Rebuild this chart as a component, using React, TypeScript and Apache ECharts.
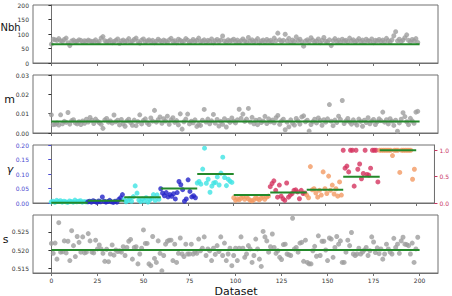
import React, { useEffect, useRef } from "react";
import * as echarts from "echarts";

// Dataset index ticks
const X_TICKS = [0, 25, 50, 75, 100, 125, 150, 175, 200];

// Neighbourhood size estimates per dataset
const nbh = [
  65, 82, 80, 78, 84, 77, 74, 81, 86, 70, 60, 76, 79, 73, 75, 80, 78, 72, 77, 74,
  79, 76, 73, 75, 80, 71, 74, 86, 91, 77, 72, 75, 80, 70, 74, 78, 83, 68, 76, 79,
  73, 77, 84, 71, 75, 81, 86, 74, 69, 79, 83, 72, 76, 80, 74, 78, 70, 75, 82, 77,
  73, 79, 76, 71, 80, 85, 74, 77, 70, 82, 78, 73, 76, 84, 79, 71, 75, 81, 74, 78,
  86, 73, 76, 80, 72, 78, 75, 83, 70, 77, 81, 74, 79, 93, 76, 72, 80, 75, 78, 82,
  74, 79, 71, 77, 83, 76, 72, 88, 75, 80, 73, 77, 84, 70, 76, 79, 73, 81, 75, 78,
  72, 86, 77, 103, 80, 74, 78, 99, 76, 85, 71, 79, 74, 90, 77, 82, 73, 58, 76, 80,
  74, 87, 79, 72, 76, 83, 70, 78, 88, 75, 73, 80, 60, 77, 84, 74, 79, 71, 82, 76,
  78, 73, 86, 76, 80, 72, 77, 84, 74, 79, 71, 82, 77, 75, 83, 70, 78, 76, 81, 74,
  79, 73, 85, 77, 72, 80, 94, 108, 76, 82, 74, 79, 87, 97, 78, 73, 81, 76, 84, 71,
];

// Migration rate estimates per dataset
const mRate = [
  0.0094, 0.0043, 0.0045, 0.0052, 0.0041, 0.0094, 0.0048, 0.006, 0.0055, 0.0106, 0.0046, 0.0064, 0.0069, 0.0052, 0.0047, 0.0058, 0.0044, 0.0062, 0.005, 0.0071,
  0.0057, 0.008, 0.0066, 0.0049, 0.0072, 0.0061, 0.0053, 0.0045, 0.0024, 0.0068, 0.0075, 0.0056, 0.0062, 0.0051, 0.0093, 0.0058, 0.0066, 0.0042, 0.007, 0.0048,
  0.0035, 0.0063, 0.0071, 0.0054, 0.004, 0.0067, 0.0038, 0.0059, 0.0094, 0.0047, 0.0065, 0.0073, 0.0052, 0.0044, 0.0078, 0.0061, 0.0117, 0.0056, 0.0069, 0.0083,
  0.005, 0.0074, 0.0062, 0.0087, 0.0045, 0.0068, 0.0079, 0.0055, 0.0064, 0.0042, 0.0099, 0.002, 0.0058, 0.0072, 0.0098, 0.0047, 0.0061, 0.0053, 0.0068, 0.0034,
  0.0044, 0.0039, 0.0066, 0.0122, 0.0057, 0.0072, 0.0048, 0.0063, 0.0096, 0.0051, 0.007, 0.0036, 0.006, 0.0045, 0.0074, 0.0031, 0.0065, 0.0055, 0.0078, 0.0061,
  0.0052, 0.0068, 0.0123, 0.0076, 0.0098, 0.006, 0.0072, 0.0127, 0.0057, 0.0081, 0.0048, 0.0066, 0.0043, 0.007, 0.0054, 0.0062, 0.0086, 0.0049, 0.0073, 0.0058,
  0.0067, 0.0053, 0.0079, 0.0091, 0.0045, 0.0063, 0.0071, 0.0017, 0.0056, 0.0032, 0.0068, 0.005, 0.0041, 0.0075, 0.0062, 0.0046, 0.0083, 0.0089, 0.0058, 0.0066,
  0.001, 0.0044, 0.0059, 0.0071, 0.0052, 0.0078, 0.0065, 0.004, 0.0069, 0.0056, 0.0073, 0.0147, 0.0061, 0.0038, 0.0067, 0.0054, 0.0087, 0.007, 0.0168, 0.0049,
  0.0063, 0.0075, 0.0057, 0.0046, 0.0068, 0.0052, 0.0041, 0.0072, 0.006, 0.0035, 0.0066, 0.0054, 0.0079, 0.0048, 0.0062, 0.007, 0.0044, 0.0058, 0.0073, 0.0064,
  0.0108, 0.0056, 0.0069, 0.0047, 0.0074, 0.0061, 0.0039, 0.0066, 0.0009, 0.0052, 0.0071, 0.0105, 0.0085, 0.0058, 0.0043, 0.0076, 0.0062, 0.005, 0.0108, 0.0112,
];

// Gamma estimates, 20 datasets per simulated value
const gammaGroups = [
  [0.004, 0.006, 0.002, 0.009, 0.005, 0.008, 0.003, 0.006, 0.004, 0.002, 0.007, 0.005, 0.003, 0.01, 0.004, 0.006, 0.008, 0.003, 0.005, 0.004],
  [0.004, 0.006, 0.003, 0.008, 0.005, 0.002, 0.007, 0.004, 0.021, 0.006, 0.003, 0.005, 0.009, 0.004, 0.002, 0.006, 0.003, 0.012, 0.018, 0.029],
  [0.012, 0.004, 0.008, 0.015, 0.006, 0.022, 0.059, 0.034, 0.01, 0.005, 0.014, 0.007, 0.018, 0.003, 0.011, 0.016, 0.029, 0.009, 0.028, 0.013],
  [0.049, 0.034, 0.025, 0.036, 0.021, 0.029, 0.023, 0.032, 0.014, 0.036, 0.074, 0.063, 0.046, 0.006, 0.014, 0.08, 0.04, 0.021, 0.025, 0.018],
  [0.069, 0.074, 0.065, 0.117, 0.189, 0.068, 0.082, 0.037, 0.058, 0.069, 0.071, 0.09, 0.062, 0.103, 0.158, 0.088, 0.06, 0.082, 0.075, 0.071],
  [0.1, 0.05, 0.08, 0.06, 0.09, 0.12, 0.07, 0.11, 0.08, 0.05, 0.04, 0.06, 0.1, 0.08, 0.06, 0.09, 0.12, 0.07, 0.11, 0.13],
  [0.31, 0.37, 0.42, 0.24, 0.11, 0.34, 0.13, 0.08, 0.05, 0.38, 0.11, 0.15, 0.18, 0.24, 0.25, 0.21, 0.08, 0.24, 0.18, 0.19],
  [0.15, 0.1, 0.69, 0.25, 0.27, 0.19, 0.11, 0.24, 0.15, 0.59, 0.27, 0.18, 0.51, 0.24, 0.34, 0.17, 0.27, 0.13, 0.4, 0.15],
  [1.0, 0.66, 0.7, 0.59, 1.0, 1.0, 0.32, 1.0, 0.64, 0.74, 0.46, 0.56, 1.0, 0.54, 0.53, 0.66, 1.0, 1.0, 1.0, 0.4],
  [1.0, 1.0, 1.0, 1.0, 1.0, 1.0, 1.0, 0.9, 1.0, 1.0, 1.0, 0.58, 1.0, 1.0, 1.0, 1.0, 1.0, 1.0, 0.45, 0.64],
];
const gammaTrue = [0.001, 0.008, 0.02, 0.05, 0.1, 0.15, 0.2, 0.25, 0.5, 1.0];
// 0 = left axis (small gamma), 1 = right axis (large gamma)
const gammaSide = [0, 0, 0, 0, 0, 1, 1, 1, 1, 1];
const gammaColors = [
  "#3fe3e3", "#2323c8", "#3fe3e3", "#2323c8", "#3fe3e3",
  "#f39a63", "#d5335f", "#f39a63", "#d5335f", "#f39a63",
];

// s estimates per dataset
const sVal = [
  0.5218, 0.5191, 0.5219, 0.5175, 0.5275, 0.5194, 0.5195, 0.5225, 0.5192, 0.5224,
  0.5171, 0.5253, 0.5212, 0.5182, 0.5237, 0.5221, 0.5194, 0.5236, 0.5192, 0.5194,
  0.5245, 0.5225, 0.5194, 0.5192, 0.5227, 0.5203, 0.5214, 0.5203, 0.5191, 0.5169,
  0.5202, 0.5168, 0.5189, 0.5214, 0.5186, 0.52, 0.5196, 0.5198, 0.5194, 0.5209,
  0.5185, 0.5207, 0.5224, 0.5229, 0.5175, 0.5207, 0.5209, 0.5162, 0.5189, 0.5205,
  0.5255, 0.5218, 0.5218, 0.5162, 0.5157, 0.5237, 0.5177, 0.5166, 0.5225, 0.5191,
  0.5143, 0.5185, 0.5216, 0.5224, 0.5227, 0.5227, 0.5171, 0.5216, 0.5166, 0.5191,
  0.5233, 0.5189, 0.5182, 0.5216, 0.5189, 0.5189, 0.5216, 0.5189, 0.5194, 0.5191,
  0.523, 0.5198, 0.5205, 0.5236, 0.5185, 0.5203, 0.5198, 0.5171, 0.5205, 0.5188,
  0.5212, 0.5196,
  0.5236, 0.5185, 0.5219, 0.5171, 0.5189, 0.5205, 0.5157, 0.5185, 0.5205, 0.5171,
  0.5205, 0.5236, 0.5205, 0.518, 0.5189, 0.5212, 0.5203, 0.5166, 0.5185, 0.523,
  0.5203, 0.5175, 0.5155, 0.5251, 0.5236, 0.5225, 0.5194, 0.5209, 0.5244, 0.5207,
  0.5191, 0.5198, 0.518, 0.5174, 0.5215, 0.5216, 0.5189, 0.5187, 0.5185, 0.5287,
  0.5203, 0.5207, 0.5194, 0.5219, 0.5221, 0.5169, 0.5227, 0.5166, 0.5162, 0.5162,
  0.5198, 0.521, 0.5183,
  0.5239, 0.5185, 0.5224, 0.5224, 0.52, 0.5171, 0.5233, 0.523, 0.518, 0.5207,
  0.5237, 0.5216, 0.5225, 0.5166, 0.5166, 0.5194, 0.5227, 0.5212, 0.5248, 0.5189,
  0.5185, 0.5189, 0.5205, 0.5189, 0.5194, 0.52, 0.5207, 0.5185, 0.5198, 0.5236,
  0.5222, 0.5193, 0.5206, 0.519,
  0.5203, 0.5175, 0.5189, 0.5216, 0.5203, 0.5194, 0.5189, 0.5232, 0.5207, 0.5216,
  0.5191, 0.5225, 0.5235, 0.5216, 0.5215, 0.5212, 0.5189, 0.5219, 0.5166, 0.5203,
  0.5235,
];

const NBH_TRUE = 65;
const M_TRUE = 0.006;
const S_TRUE = 0.52;

const GRAY = "#9d9d9d";
const GREEN = "#23892a";
const FRAME = "#707070";
const TEXT = "#333";
const LEFT_BLUE = "#4a4ad0";
const RIGHT_RED = "#c93461";
const FONT = "DejaVu Sans";
const TICK_FONT = 6;

const GRID_TOPS = [5, 75, 145, 215];
const GRID_H = 58;

export default function App() {
  const ref = useRef<HTMLDivElement>(null);

  useEffect(() => {
    if (!ref.current) return;
    const chart = echarts.init(ref.current, null, { renderer: "svg" });

    const pts = (arr: number[], offset = 0) => arr.map((v, k) => [offset + k, v]);

    const grid = GRID_TOPS.map((top) => ({
      left: 33,
      right: 14,
      top,
      height: GRID_H,
      show: true,
      borderColor: FRAME,
      borderWidth: 1,
      backgroundColor: "transparent",
    }));

    const xAxis = GRID_TOPS.map((_, gi) => ({
      type: "value",
      gridIndex: gi,
      min: -10,
      max: 210,
      axisLine: { show: true, lineStyle: { color: FRAME } },
      axisTick: {
        show: true,
        length: 3,
        customValues: X_TICKS,
        lineStyle: { color: FRAME },
      },
      axisLabel: {
        show: gi === 3,
        customValues: X_TICKS,
        margin: 4,
        fontSize: TICK_FONT,
        color: TEXT,
        fontFamily: FONT,
      },
      splitLine: { show: false },
    }));

    const yBase = (gi: number, color = TEXT) => ({
      type: "value",
      gridIndex: gi,
      axisLine: { show: true, lineStyle: { color: FRAME } },
      axisTick: { show: true, length: 3, lineStyle: { color } },
      axisLabel: { margin: 4, fontSize: TICK_FONT, color, fontFamily: FONT },
      splitLine: { show: false },
    });

    const yAxis = [
      { ...yBase(0), min: 0, max: 200, interval: 50 },
      {
        ...yBase(1),
        min: 0,
        max: 0.03,
        interval: 0.01,
        axisLabel: { ...yBase(1).axisLabel, formatter: (v: number) => v.toFixed(2) },
      },
      {
        ...yBase(2, LEFT_BLUE),
        min: 0,
        max: 0.2,
        interval: 0.05,
        axisLabel: { ...yBase(2, LEFT_BLUE).axisLabel, formatter: (v: number) => v.toFixed(2) },
      },
      {
        ...yBase(2, RIGHT_RED),
        position: "right",
        min: 0,
        max: 1.1,
        axisTick: { show: true, length: 3, customValues: [0, 0.5, 1.0], lineStyle: { color: RIGHT_RED } },
        axisLabel: {
          ...yBase(2, RIGHT_RED).axisLabel,
          margin: 5,
          customValues: [0, 0.5, 1.0],
          formatter: (v: number) => v.toFixed(1),
        },
      },
      {
        ...yBase(3),
        min: 0.5137,
        max: 0.5296,
        axisTick: { show: true, length: 3, customValues: [0.515, 0.52, 0.525], lineStyle: { color: TEXT } },
        axisLabel: {
          ...yBase(3).axisLabel,
          customValues: [0.515, 0.52, 0.525],
          formatter: (v: number) => v.toFixed(3),
        },
      },
    ];

    const scatter = (data: number[][], xi: number, yi: number, color: string) => ({
      type: "scatter",
      xAxisIndex: xi,
      yAxisIndex: yi,
      data,
      symbolSize: 5,
      itemStyle: { color },
      z: 2,
    });

    const truth = (data: number[][], xi: number, yi: number) => ({
      type: "line",
      xAxisIndex: xi,
      yAxisIndex: yi,
      data,
      symbol: "none",
      lineStyle: { color: GREEN, width: 2 },
      z: 3,
    });

    const series: any[] = [
      scatter(pts(nbh), 0, 0, GRAY),
      truth([[0, NBH_TRUE], [200, NBH_TRUE]], 0, 0),
      scatter(pts(mRate), 1, 1, GRAY),
      truth([[0, M_TRUE], [200, M_TRUE]], 1, 1),
      scatter(pts(sVal), 3, 4, GRAY),
      truth([[0, S_TRUE], [200, S_TRUE]], 3, 4),
    ];

    gammaGroups.forEach((vals, g) => {
      const yi = gammaSide[g] === 0 ? 2 : 3;
      series.push(scatter(pts(vals, g * 20), 2, yi, gammaColors[g]));
      series.push(truth([[g * 20, gammaTrue[g]], [g * 20 + 20, gammaTrue[g]]], 2, yi));
    });

    const label = (text: string, x: number, y: number, extra: any = {}) => ({
      type: "text",
      x,
      y,
      style: {
        text,
        fontSize: 11,
        fontFamily: FONT,
        fill: "#111",
        textAlign: "center",
        textVerticalAlign: "middle",
        ...extra,
      },
    });

    chart.setOption({
      animation: false,
      backgroundColor: "#fff",
      grid,
      xAxis,
      yAxis,
      series,
      graphic: [
        label("Nbh", 0.5, 27, { textAlign: "left", fontSize: 10 }),
        label("m", 9.5, 99),
        label("γ", 10, 169, { fontStyle: "italic" }),
        label("s", 5.5, 239),
        label("Dataset", 236, 291),
      ],
    });

    return () => chart.dispose();
  }, []);

  return (
    <div
      ref={ref}
      style={{ position: "fixed", left: 0, top: 0, width: 452, height: 296 }}
    />
  );
}
